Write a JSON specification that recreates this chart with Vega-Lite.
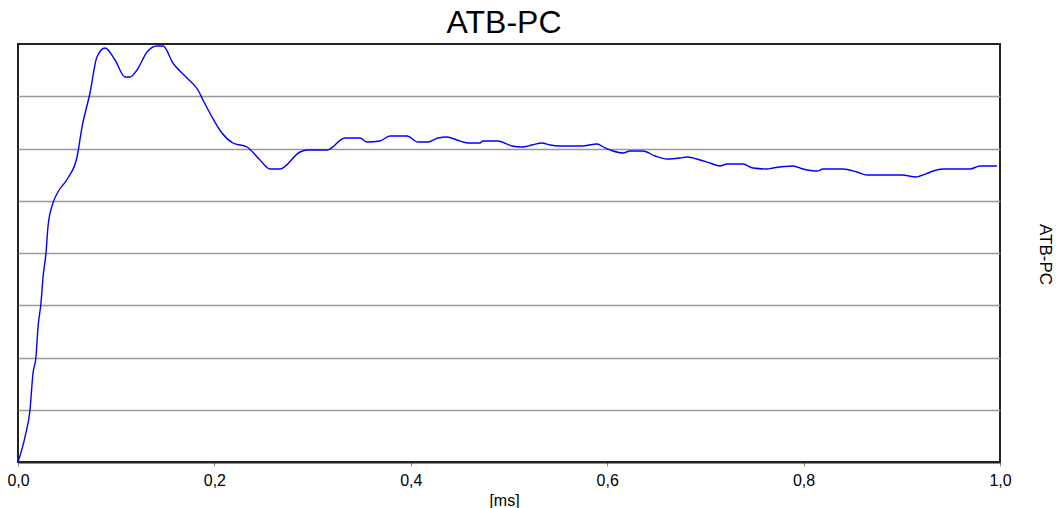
{
  "$schema": "https://vega.github.io/schema/vega-lite/v6.json",
  "width": 982,
  "height": 418,
  "autosize": "none",
  "padding": {"left": 18, "top": 44, "right": 58, "bottom": 46},
  "background": "white",
  "config": {
    "view": {"stroke": "#222", "strokeWidth": 2},
    "font": "Liberation Sans"
  },
  "title": {
    "text": "ATB-PC",
    "fontSize": 32,
    "fontWeight": "normal",
    "font": "Liberation Sans",
    "color": "#000",
    "anchor": "middle",
    "offset": 4,
    "dx": -5
  },
  "data": {
    "values": [
      {"t": 0.0, "v": 0.0},
      {"t": 0.0071, "v": 0.478},
      {"t": 0.0122, "v": 0.995},
      {"t": 0.0153, "v": 1.703},
      {"t": 0.0183, "v": 2.01},
      {"t": 0.0204, "v": 2.584},
      {"t": 0.0234, "v": 3.043},
      {"t": 0.0255, "v": 3.541},
      {"t": 0.0285, "v": 4.0},
      {"t": 0.0305, "v": 4.498},
      {"t": 0.0356, "v": 4.957},
      {"t": 0.0407, "v": 5.167},
      {"t": 0.0509, "v": 5.435},
      {"t": 0.0601, "v": 5.837},
      {"t": 0.0652, "v": 6.411},
      {"t": 0.0733, "v": 7.062},
      {"t": 0.0804, "v": 7.751},
      {"t": 0.0886, "v": 7.923},
      {"t": 0.0988, "v": 7.694},
      {"t": 0.109, "v": 7.368},
      {"t": 0.1141, "v": 7.368},
      {"t": 0.1212, "v": 7.502},
      {"t": 0.1314, "v": 7.847},
      {"t": 0.1415, "v": 7.962},
      {"t": 0.1477, "v": 7.962},
      {"t": 0.1578, "v": 7.636},
      {"t": 0.1721, "v": 7.349},
      {"t": 0.1833, "v": 7.12},
      {"t": 0.1884, "v": 6.928},
      {"t": 0.1976, "v": 6.603},
      {"t": 0.2077, "v": 6.297},
      {"t": 0.2189, "v": 6.105},
      {"t": 0.2332, "v": 6.029},
      {"t": 0.2464, "v": 5.78},
      {"t": 0.2566, "v": 5.608},
      {"t": 0.2668, "v": 5.608},
      {"t": 0.2872, "v": 5.933},
      {"t": 0.2943, "v": 5.971},
      {"t": 0.3147, "v": 5.971},
      {"t": 0.333, "v": 6.201},
      {"t": 0.3483, "v": 6.201},
      {"t": 0.3554, "v": 6.124},
      {"t": 0.3686, "v": 6.144},
      {"t": 0.3788, "v": 6.239},
      {"t": 0.3961, "v": 6.239},
      {"t": 0.4073, "v": 6.124},
      {"t": 0.4175, "v": 6.124},
      {"t": 0.4277, "v": 6.201},
      {"t": 0.4369, "v": 6.22},
      {"t": 0.447, "v": 6.163},
      {"t": 0.4582, "v": 6.105},
      {"t": 0.4705, "v": 6.105},
      {"t": 0.4735, "v": 6.144},
      {"t": 0.4888, "v": 6.144},
      {"t": 0.5031, "v": 6.048},
      {"t": 0.5132, "v": 6.029},
      {"t": 0.5234, "v": 6.067},
      {"t": 0.5336, "v": 6.105},
      {"t": 0.5418, "v": 6.067},
      {"t": 0.5519, "v": 6.048},
      {"t": 0.5743, "v": 6.048},
      {"t": 0.5896, "v": 6.086},
      {"t": 0.5978, "v": 6.01},
      {"t": 0.6059, "v": 5.952},
      {"t": 0.6161, "v": 5.914},
      {"t": 0.6232, "v": 5.952},
      {"t": 0.6365, "v": 5.952},
      {"t": 0.6487, "v": 5.856},
      {"t": 0.6609, "v": 5.799},
      {"t": 0.6741, "v": 5.818},
      {"t": 0.6813, "v": 5.837},
      {"t": 0.6945, "v": 5.78},
      {"t": 0.7047, "v": 5.722},
      {"t": 0.7149, "v": 5.665},
      {"t": 0.722, "v": 5.703},
      {"t": 0.7383, "v": 5.703},
      {"t": 0.7485, "v": 5.627},
      {"t": 0.7627, "v": 5.608},
      {"t": 0.7688, "v": 5.627},
      {"t": 0.7892, "v": 5.665},
      {"t": 0.7994, "v": 5.608},
      {"t": 0.8136, "v": 5.569},
      {"t": 0.8198, "v": 5.608},
      {"t": 0.8401, "v": 5.608},
      {"t": 0.8544, "v": 5.55},
      {"t": 0.8646, "v": 5.493},
      {"t": 0.9002, "v": 5.493},
      {"t": 0.9145, "v": 5.455},
      {"t": 0.9185, "v": 5.474},
      {"t": 0.9267, "v": 5.531},
      {"t": 0.9318, "v": 5.569},
      {"t": 0.942, "v": 5.608},
      {"t": 0.9695, "v": 5.608},
      {"t": 0.9796, "v": 5.665},
      {"t": 0.9969, "v": 5.665}
    ]
  },
  "mark": {"type": "line", "color": "#0000ff", "strokeWidth": 1.4, "interpolate": "monotone", "clip": true},
  "encoding": {
    "x": {
      "field": "t",
      "type": "quantitative",
      "scale": {"domain": [0, 1], "nice": false, "zero": false},
      "axis": {
        "values": [0, 0.2, 0.4, 0.6, 0.8, 1.0],
        "labelExpr": "replace(format(datum.value, '.1f'), '.', ',')",
        "grid": false,
        "domain": true,
        "domainColor": "#222",
        "domainWidth": 2,
        "ticks": true,
        "tickSize": 4,
        "tickColor": "#888",
        "tickWidth": 1,
        "labelFont": "Liberation Sans",
        "labelFontSize": 16,
        "labelColor": "#000",
        "labelPadding": 6,
        "labelFlush": false,
        "title": "[ms]",
        "titleFont": "Liberation Sans",
        "titleFontSize": 16,
        "titleFontWeight": "normal",
        "titleColor": "#000",
        "titleX": 486,
        "titlePadding": 4
      }
    },
    "y": {
      "field": "v",
      "type": "quantitative",
      "scale": {"domain": [0, 8], "nice": false, "zero": true},
      "axis": {
        "orient": "right",
        "values": [1, 2, 3, 4, 5, 6, 7],
        "grid": true,
        "gridColor": "#999",
        "gridWidth": 1.5,
        "gridOpacity": 1,
        "labels": false,
        "ticks": false,
        "domain": false,
        "title": "ATB-PC",
        "titleFont": "Liberation Sans",
        "titleFontSize": 17,
        "titleFontWeight": "normal",
        "titleColor": "#000",
        "titleAngle": 90,
        "titleAlign": "center",
        "titleBaseline": "middle",
        "titleX": 44,
        "titleY": 210
      }
    }
  }
}
